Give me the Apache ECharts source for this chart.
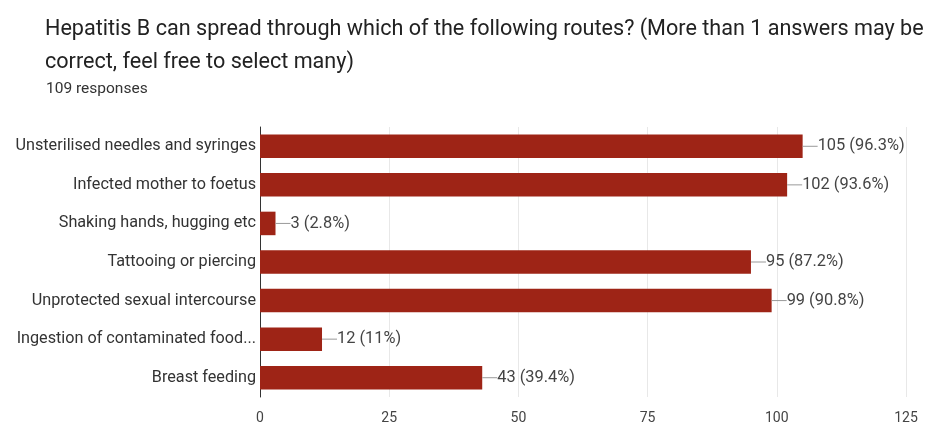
<!DOCTYPE html>
<html>
<head>
<meta charset="utf-8">
<script src="https://cdn.jsdelivr.net/npm/echarts@6/dist/echarts.min.js"></script>
<style>html,body{margin:0;padding:0;background:#fff}#c{width:930px;height:425px}</style>
</head>
<body>
<div id="c"></div>
<script>
var categories = [
  "Unsterilised needles and syringes",
  "Infected mother to foetus",
  "Shaking hands, hugging etc",
  "Tattooing or piercing",
  "Unprotected sexual intercourse",
  "Ingestion of contaminated food...",
  "Breast feeding"
];
var counts = [105, 102, 3, 95, 99, 12, 43];
var percents = ["96.3%", "93.6%", "2.8%", "87.2%", "90.8%", "11%", "39.4%"];
var xTicks = [0, 25, 50, 75, 100, 125];

var chart = echarts.init(document.getElementById('c'));
chart.setOption({
  backgroundColor: '#fff',
  animation: false,
  title: [{
    text: 'Hepatitis B can spread through which of the following routes? (More than 1 answers may be\ncorrect, feel free to select many)',
    left: 40, top: 8,
    textStyle: {fontFamily: 'Roboto', fontSize: 21.6, fontWeight: 'normal', color: '#222', lineHeight: 33}
  }, {
    text: '109 responses',
    left: 41, top: 76,
    textStyle: {fontFamily: 'Roboto', fontSize: 15.5, fontWeight: 'normal', color: '#333'}
  }],
  grid: {left: 260, right: 24, top: 127, bottom: 23, containLabel: false},
  xAxis: {
    type: 'value', min: 0, max: 125, interval: 25,
    axisLine: {show: false}, axisTick: {show: false},
    splitLine: {show: true, lineStyle: {color: '#e8e8e8'}},
    axisLabel: {color: '#444', fontSize: 14, fontFamily: 'Roboto', margin: 14,
      formatter: function(v){ return xTicks.indexOf(v) >= 0 ? String(v) : ''; }}
  },
  yAxis: {
    type: 'category', data: categories, inverse: true,
    axisLine: {show: true, lineStyle: {color: '#333'}},
    axisTick: {show: false},
    axisLabel: {color: '#333', fontSize: 16.2, fontFamily: 'Roboto', margin: 4}
  },
  series: [{
    type: 'bar',
    data: counts,
    barCategoryGap: '39%',
    itemStyle: {color: '#9e2416'},
    label: {
      show: true, position: 'right', distance: 0,
      fontFamily: 'Roboto', fontSize: 16.4, color: '#444',
      formatter: function(p){ return '{l|}' + counts[p.dataIndex] + ' (' + percents[p.dataIndex] + ')'; },
      rich: {l: {width: 15, height: 1, backgroundColor: '#999'}}
    }
  }]
});
</script>
</body>
</html>
